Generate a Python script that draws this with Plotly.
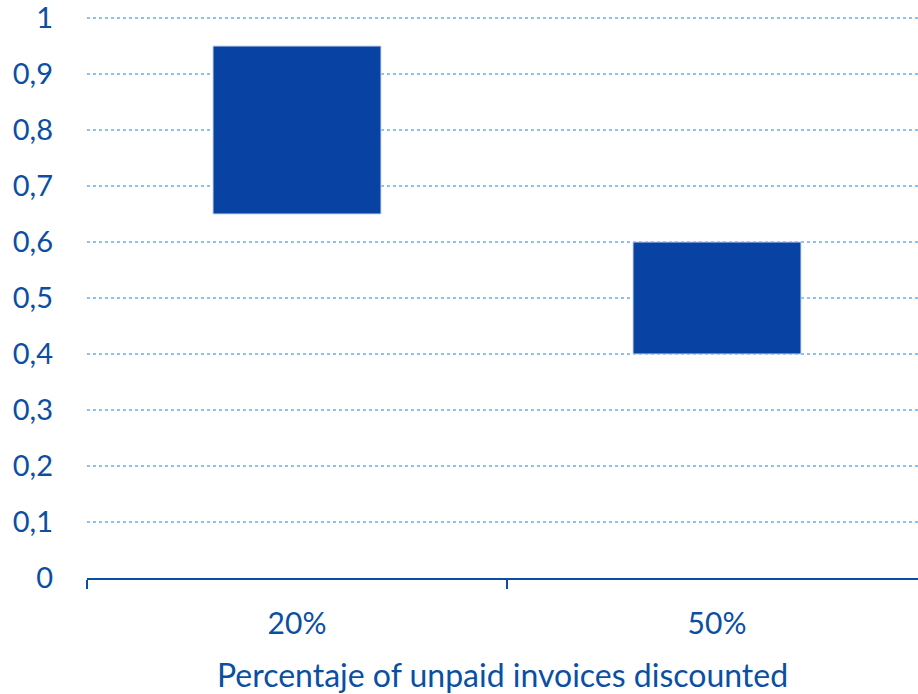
import plotly.graph_objects as go

categories = ["20%", "50%"]
low_values = [0.65, 0.40]
high_values = [0.95, 0.60]

y_tick_values = [0, 0.1, 0.2, 0.3, 0.4, 0.5, 0.6, 0.7, 0.8, 0.9, 1]
y_tick_labels = ["0", "0,1", "0,2", "0,3", "0,4", "0,5", "0,6", "0,7", "0,8", "0,9", "1"]

x_title = "Percentaje of unpaid invoices discounted"

TEXT = "#0B4FA3"
BAR = "#0842A3"
GRID = "#8EC0F0"

fig = go.Figure()
fig.add_trace(go.Bar(
    x=categories,
    y=[h - l for h, l in zip(high_values, low_values)],
    base=low_values,
    width=0.4,
    marker=dict(color=BAR, line=dict(color="#C9D8EE", width=1)),
    showlegend=False,
))

fig.update_layout(
    width=918, height=694,
    margin=dict(l=87, r=0, t=16, b=116),
    paper_bgcolor="white", plot_bgcolor="white",
    font=dict(family="Lato", color=TEXT, size=29),
    xaxis=dict(
        automargin=False,
        range=[-0.5, 1.5 - 9 / 420],
        showline=True, linecolor=TEXT, linewidth=2,
        ticks="outside", tickson="boundaries", ticklen=9, tickwidth=2, tickcolor=TEXT,
        showgrid=False,
        tickfont=dict(size=30, color=TEXT),
        ticklabelstandoff=18,
        title=dict(text=x_title, font=dict(size=32, color=TEXT), standoff=29),
    ),
    yaxis=dict(
        automargin=False,
        range=[0, 562 / 560],
        tickmode="array", tickvals=y_tick_values, ticktext=y_tick_labels,
        showgrid=True, gridcolor=GRID, griddash="3px,3px", gridwidth=2,
        zeroline=False, showline=False,
        tickfont=dict(size=29, color=TEXT),
        ticklabelstandoff=33,
        ticklabeloverflow="allow",
    ),
)

fig.write_html("out.html", config={"displayModeBar": False},
               post_script="document.body.style.margin='0';")
